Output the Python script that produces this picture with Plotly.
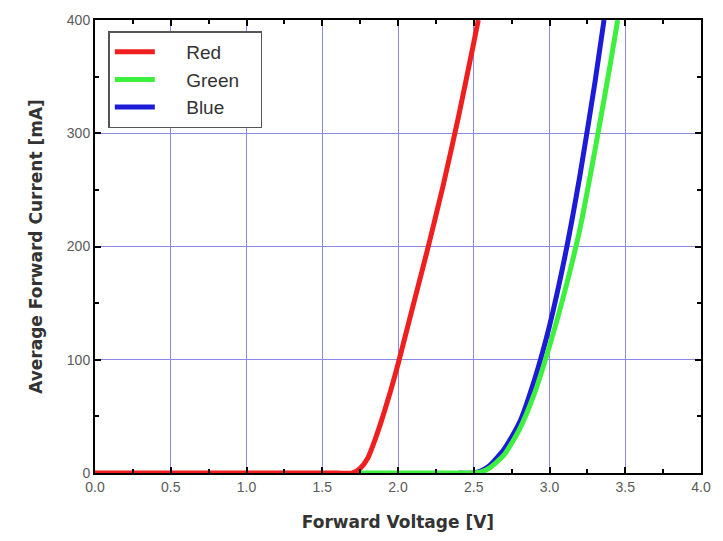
import plotly.graph_objects as go

red_v = [0.0, 1.0, 1.6, 1.7, 1.75, 1.8, 1.85, 1.9, 1.95, 2.0, 2.1, 2.2, 2.3, 2.4, 2.5, 2.53]
red_i = [0, 0, 0, 0, 4, 13, 30, 50, 72, 96, 148, 200, 255, 315, 380, 400]

green_v = [1.7, 2.4, 2.5, 2.55, 2.6, 2.7, 2.8, 2.9, 3.0, 3.1, 3.2, 3.3, 3.4, 3.45]
green_i = [0, 0, 0, 1, 4, 16, 38, 70, 112, 160, 215, 285, 360, 400]

blue_v = [2.4, 2.5, 2.55, 2.6, 2.7, 2.8, 2.9, 3.0, 3.1, 3.2, 3.3, 3.36]
blue_i = [0, 0, 2, 6, 21, 44, 82, 130, 190, 262, 345, 400]

series = [
    ("Blue", blue_v, blue_i, "#1c1cd8", 3),
    ("Green", green_v, green_i, "#3ef03e", 2),
    ("Red", red_v, red_i, "#f01e1e", 1),
]

x_ticks = [0.0, 0.5, 1.0, 1.5, 2.0, 2.5, 3.0, 3.5, 4.0]
y_ticks = [0, 100, 200, 300, 400]

fig = go.Figure()
for name, v, i, color, rank in series:
    fig.add_trace(go.Scatter(
        x=v, y=i, mode="lines", name="\u00a0\u00a0\u00a0\u00a0\u00a0" + name + "\u00a0\u00a0\u00a0",
        line=dict(color=color, width=5, shape="spline", smoothing=0.6),
        legendrank=rank,
    ))

axis_common = dict(
    showline=True, linecolor="black", linewidth=2, mirror="ticks",
    ticks="inside", ticklen=6, tickwidth=2, tickcolor="black",
    showgrid=True, gridcolor="#8a8ae6", gridwidth=1,
    zeroline=False,
    tickfont=dict(family="Liberation Sans, Arial", size=14, color="#5a5a5a"),
)

fig.update_xaxes(
    range=[0, 4], tickvals=x_ticks, ticktext=[f"{t:.1f}" for t in x_ticks],
    minor=dict(dtick=0.25, ticks="inside", ticklen=4, tickwidth=2, tickcolor="black", showgrid=False),
    title=dict(text="Forward Voltage [V]", standoff=22,
               font=dict(family="DejaVu Sans", size=17, color="#333333", weight="bold")),
    **axis_common,
)
fig.update_yaxes(
    range=[0, 400], tickvals=y_ticks,
    minor=dict(dtick=50, ticks="inside", ticklen=4, tickwidth=2, tickcolor="black", showgrid=False),
    title=dict(text="Average Forward Current [mA]", standoff=20,
               font=dict(family="DejaVu Sans", size=17, color="#333333", weight="bold")),
    **axis_common,
)

fig.update_layout(
    width=723, height=541,
    margin=dict(l=95, r=20, t=15, b=68),
    plot_bgcolor="white", paper_bgcolor="white",
    legend=dict(
        x=0.022, y=0.975, xanchor="left", yanchor="top",
        bgcolor="white", bordercolor="#555555", borderwidth=1.5,
        font=dict(family="Liberation Sans, Arial", size=19, color="#333333"),
        itemwidth=40, tracegroupgap=0,
    ),
    showlegend=True,
)

fig.write_html("out.html")
